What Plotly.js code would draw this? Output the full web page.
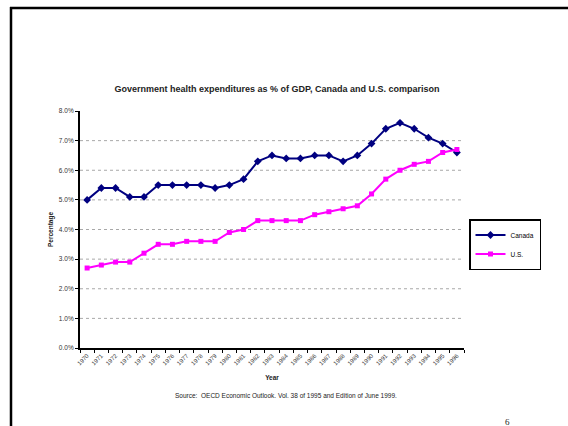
<!DOCTYPE html>
<html>
<head>
<meta charset="utf-8">
<script src="https://cdn.plot.ly/plotly-3.0.1.min.js"></script>
<style>
  html, body { margin: 0; padding: 0; background: #ffffff; }
  #chart { width: 568px; height: 426px; }
</style>
</head>
<body>
<div id="chart"></div>
<script>
const years = ["1970","1971","1972","1973","1974","1975","1976","1977","1978","1979",
               "1980","1981","1982","1983","1984","1985","1986","1987","1988","1989",
               "1990","1991","1992","1993","1994","1995","1996"];
const canada = [5.0, 5.4, 5.4, 5.1, 5.1, 5.5, 5.5, 5.5, 5.5, 5.4,
                5.5, 5.7, 6.3, 6.5, 6.4, 6.4, 6.5, 6.5, 6.3, 6.5,
                6.9, 7.4, 7.6, 7.4, 7.1, 6.9, 6.6];
const us =     [2.7, 2.8, 2.9, 2.9, 3.2, 3.5, 3.5, 3.6, 3.6, 3.6,
                3.9, 4.0, 4.3, 4.3, 4.3, 4.3, 4.5, 4.6, 4.7, 4.8,
                5.2, 5.7, 6.0, 6.2, 6.3, 6.6, 6.7];
const gridLevels = [1, 2, 3, 4, 5, 6, 7];
const titleText = "Government health expenditures as % of GDP, Canada and U.S. comparison";
const sourceText = "Source:  OECD Economic Outlook. Vol. 38 of 1995 and Edition of June 1999.";

const traces = [
  {
    x: years, y: canada, name: "Canada", type: "scatter", mode: "lines+markers",
    line: { color: "#000080", width: 2 },
    marker: { symbol: "diamond", size: 6, color: "#000080" }
  },
  {
    x: years, y: us, name: "U.S.", type: "scatter", mode: "lines+markers",
    line: { color: "#FF00FF", width: 2 },
    marker: { symbol: "square", size: 5, color: "#FF00FF" }
  }
];

const shapes = gridLevels.map(v => ({
  type: "line", xref: "paper", yref: "y", x0: 0, x1: 1, y0: v, y1: v,
  line: { color: "#a8a8a8", width: 1, dash: "dot" }, layer: "below"
}));
// slide frame
shapes.push({ type: "line", xref: "paper", yref: "paper",
  x0: (10 - 80) / 384, x1: (568 - 80) / 384, y0: (348 - 8) / 237, y1: (348 - 8) / 237,
  line: { color: "#000000", width: 2.5 } });
shapes.push({ type: "line", xref: "paper", yref: "paper",
  x0: (11 - 80) / 384, x1: (11 - 80) / 384, y0: (348 - 7) / 237, y1: (348 - 430) / 237,
  line: { color: "#000000", width: 2.5 } });

const font = "Liberation Sans, Arial, sans-serif";

const layout = {
  width: 568, height: 426,
  margin: { l: 80, r: 104, t: 111, b: 78 },
  paper_bgcolor: "#ffffff", plot_bgcolor: "#ffffff",
  font: { family: font, color: "#000000" },
  title: {
    text: "<b>" + titleText + "</b>",
    font: { family: font, size: 9, color: "#222222" },
    x: 277 / 568, xref: "container", xanchor: "center",
    y: 1 - 89 / 426, yref: "container", yanchor: "middle"
  },
  showlegend: true,
  legend: {
    x: (469 - 80) / 384, y: (348 - 219) / 237, xanchor: "left", yanchor: "top",
    bordercolor: "#000000", borderwidth: 1.5, bgcolor: "#ffffff",
    font: { family: font, size: 6.5, color: "#000000" },
    itemwidth: 30, tracegroupgap: 0
  },
  xaxis: {
    type: "category",
    range: [-0.5, 26.5],
    showgrid: false, zeroline: false,
    showline: true, linecolor: "#000000", linewidth: 2,
    ticks: "outside", tickson: "boundaries", ticklen: 3, tickwidth: 1, tickcolor: "#000000",
    tickangle: -45,
    tickfont: { family: font, size: 6, color: "#333333" },
    title: { text: "<b>Year</b>", font: { family: font, size: 6.5, color: "#222222" }, standoff: 10 },
    fixedrange: true
  },
  yaxis: {
    range: [0, 8],
    dtick: 1, tick0: 0,
    tickformat: ".1f", ticksuffix: "%",
    showgrid: false, zeroline: false,
    showline: true, linecolor: "#000000", linewidth: 2,
    ticks: "outside", ticklen: 3, tickwidth: 1, tickcolor: "#000000",
    tickfont: { family: font, size: 6.5, color: "#333333" },
    title: { text: "<b>Percentage</b>", font: { family: font, size: 6.5, color: "#222222" }, standoff: 5 },
    fixedrange: true
  },
  shapes: shapes,
  annotations: [
    {
      text: sourceText, xref: "paper", yref: "paper",
      x: (286 - 80) / 384, y: (348 - 395) / 237, xanchor: "center", yanchor: "middle",
      showarrow: false, font: { family: font, size: 6.5, color: "#222222" }
    },
    {
      text: "6", xref: "paper", yref: "paper",
      x: (507 - 80) / 384, y: (348 - 422) / 237, xanchor: "center", yanchor: "middle",
      showarrow: false, font: { family: "Liberation Serif, Times New Roman, serif", size: 9, color: "#222222" }
    }
  ]
};

Plotly.newPlot("chart", traces, layout, { displayModeBar: false, staticPlot: true });
</script>
</body>
</html>
